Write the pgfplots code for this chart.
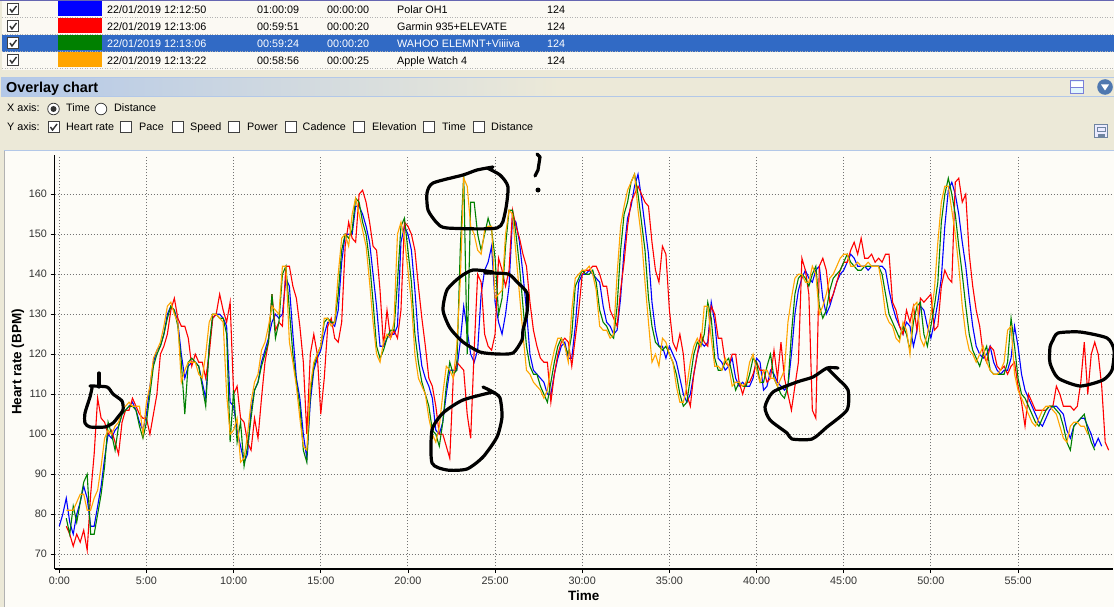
\documentclass[border=0pt]{standalone}
\usepackage{fontspec}
\setmainfont{Liberation Sans}
\usepackage{pgfplots}
\usepackage{pgfplotstable}
\pgfplotsset{compat=1.18}
\definecolor{paper}{HTML}{FDFCF7}
\definecolor{beige}{HTML}{ECE9D8}
\definecolor{rowbg}{HTML}{FBF9F3}
\definecolor{rowsel}{HTML}{316AC5}
\definecolor{barblue}{HTML}{B3C8E8}
\definecolor{wahoo}{HTML}{008000}
\definecolor{watch}{HTML}{FFA500}
\definecolor{iconblue}{HTML}{4F78B0}
\definecolor{iconedge}{HTML}{7A80D8}
\definecolor{icongrey}{HTML}{6F84A0}
% time (min), Polar, Garmin, Wahoo, Apple Watch
\pgfplotstableread{
t b r g o
0.0 77 nan nan nan
0.2 80 nan nan nan
0.4 84 77 79 81
0.6 78 75 75 81
0.8 75 72 82 81
1.0 80 75 78 83
1.2 83 73 83 85
1.4 87 76 88 85
1.6 84 71 90 81
1.8 77 85 75 81
2.0 77 95 75 84
2.2 82 109 80 86
2.4 87 104 85 92
2.6 94 103 92 99
2.8 100 100 103 101
3.0 99 101 100 100
3.2 101 98 96 102
3.4 102 95 102 103
3.6 105 103 105 106
3.8 106 106 106 107
4.0 107 106 107 108
4.2 108 109 107 107
4.4 106 107 106 107
4.6 103 105 102 107
4.8 101 104 99 100
5.0 105 104 103 108
5.2 112 100 110 112
5.4 118 105 117 119
5.6 121 110 120 121
5.8 122 120 122 123
6.0 125 122 125 127
6.2 130 125 129 132
6.4 132 131 132 133
6.6 131 134 131 130
6.8 128 129 127 128
7.0 120 127 118 113
7.2 114 127 105 116
7.4 117 124 118 118
7.6 118 117 119 118
7.8 118 120 118 118
8.0 117 118 117 115
8.2 113 118 112 114
8.4 109 114 107 120
8.6 122 120 122 128
8.8 129 129 130 130
9.0 130 130 130 130
9.2 130 135 129 129
9.4 129 131 129 128
9.6 127 128 125 110
9.8 108 133 98 100
10.0 107 110 111 101
10.2 101 112 98 104
10.4 97 104 103 93
10.6 93 103 92 94
10.8 95 98 97 100
11.0 106 96 104 108
11.2 111 104 111 113
11.4 113 99 113 115
11.6 118 109 117 121
11.8 121 118 120 123
12.0 124 123 123 127
12.2 128 135 135 132
12.4 130 126 124 131
12.6 129 128 128 130
12.8 130 127 140 142
13.0 139 142 142 142
13.2 137 142 131 123
13.4 125 137 120 118
13.6 114 134 113 112
13.8 109 127 107 104
14.0 100 118 96 97
14.2 94 100 93 96
14.4 108 120 110 112
14.6 116 125 117 118
14.8 119 120 120 120
15.0 121 105 122 122
15.2 125 114 128 129
15.4 128 127 129 129
15.6 128 129 128 127
15.8 127 124 128 128
16.0 131 123 135 140
16.2 143 128 146 149
16.4 150 147 150 150
16.6 150 153 149 147
16.8 150 149 151 155
17.0 157 148 159 159
17.2 157 160 158 155
17.4 155 161 153 151
17.6 152 158 150 147
17.8 148 153 143 138
18.0 140 147 133 128
18.2 132 146 122 120
18.4 122 136 119 118
18.6 122 122 121 123
18.8 124 131 124 125
19.0 125 124 126 124
19.2 125 126 126 128
19.4 127 124 138 150
19.6 148 131 152 153
19.8 152 153 154 149
20.0 150 152 146 141
20.2 146 150 138 133
20.4 136 146 125 120
20.6 124 137 118 114
20.8 117 129 113 112
21.0 114 122 110 110
21.2 112 114 107 104
21.4 109 112 101 100
21.6 101 107 100 98
21.8 100 100 97 102
22.0 103 100 103 110
22.2 110 97 112 117
22.4 116 94 118 116
22.6 116 114 115 114
22.8 116 118 116 122
23.0 123 117 146 138
23.2 132 116 165 164
23.4 126 105 120 162
23.6 120 99 158 152
23.8 118 121 158 150
24.0 121 140 150 146
24.2 135 138 146 145
24.4 141 125 150 151
24.6 143 122 154 152
24.8 147 121 151 152
25.0 133 125 144 134
25.2 128 144 130 135
25.4 125 141 134 136
25.6 130 137 147 150
25.8 137 141 156 156
26.0 154 156 156 155
26.2 153 152 150 145
26.4 148 149 142 135
26.6 140 145 132 125
26.8 131 142 122 116
27.0 120 133 117 115
27.2 116 126 115 113
27.4 115 122 115 112
27.6 114 119 112 111
27.8 113 118 110 109
28.0 110 118 108 111
28.2 110 108 113 117
28.4 115 115 118 121
28.6 119 120 122 124
28.8 122 123 124 124
29.0 123 124 122 122
29.2 119 123 120 118
29.4 119 117 125 131
29.6 127 124 137 139
29.8 138 131 139 140
30.0 140 140 141 141
30.2 140 141 140 141
30.4 141 141 140 142
30.6 140 142 141 140
30.8 139 142 138 136
31.0 138 140 131 127
31.2 132 137 128 126
31.4 128 137 127 126
31.6 127 131 125 124
31.8 125 129 124 125
32.0 126 127 132 140
32.2 134 136 146 152
32.4 146 143 155 157
32.6 154 152 158 161
32.8 157 158 163 163
33.0 162 160 165 165
33.2 165 162 160 156
33.4 159 160 153 149
33.6 152 158 146 138
33.8 145 157 134 128
34.0 133 148 127 118
34.2 126 141 123 120
34.4 122 138 122 117
34.6 122 147 121 124
34.8 119 145 122 123
35.0 122 131 120 120
35.2 120 123 118 118
35.4 118 121 115 112
35.6 114 125 110 108
35.8 110 120 107 108
36.0 108 110 108 112
36.2 110 107 114 118
36.4 115 115 120 122
36.6 120 120 123 124
36.8 123 125 122 122
37.0 122 123 125 132
37.2 123 122 133 132
37.4 133 132 129 124
37.6 128 130 119 117
37.8 119 124 116 117
38.0 118 124 116 116
38.2 116 118 118 119
38.4 117 117 119 117
38.6 119 120 115 112
38.8 114 120 111 113
39.0 112 113 113 113
39.2 113 110 112 112
39.4 112 113 112 113
39.6 112 113 115 118
39.8 114 115 119 120
40.0 119 118 118 116
40.2 118 116 113 113
40.4 111 116 113 116
40.6 112 113 117 116
40.8 116 114 120 114
41.0 115 121 114 114
41.2 113 114 112 112
41.4 112 123 110 114
41.6 111 114 109 116
41.8 112 110 112 128
42.0 120 106 125 134
42.2 130 112 135 139
42.4 136 118 139 140
42.6 139 144 140 140
42.8 141 141 139 138
43.0 139 135 137 138
43.2 138 106 140 142
43.4 141 104 142 140
43.6 142 142 132 130
43.8 134 144 129 132
44.0 130 141 131 135
44.2 132 133 136 139
44.4 135 135 139 140
44.6 138 138 140 142
44.8 140 141 141 144
45.0 141 143 143 145
45.2 143 143 145 145
45.4 145 146 143 142
45.6 144 148 142 142
45.8 142 145 141 143
46.0 142 149 141 142
46.2 142 144 142 142
46.4 141 144 142 143
46.6 142 145 142 142
46.8 142 143 142 142
47.0 142 144 142 142
47.2 142 143 140 137
47.4 141 145 135 130
47.6 136 145 130 128
47.8 132 133 128 127
48.0 129 131 126 124
48.2 127 127 124 123
48.4 125 125 127 128
48.6 128 131 125 126
48.8 127 128 121 120
49.0 122 132 128 132
49.2 126 126 132 133
49.4 132 134 133 124
49.6 131 133 125 122
49.8 127 134 122 125
50.0 124 135 127 130
50.2 128 126 132 136
50.4 133 127 138 148
50.6 139 137 153 158
50.8 152 141 160 162
51.0 161 139 164 162
51.2 163 138 160 156
51.4 160 163 155 150
51.6 155 164 147 142
51.8 148 158 140 132
52.0 142 160 132 125
52.2 134 145 125 121
52.4 127 137 121 120
52.6 122 131 119 118
52.8 120 127 117 120
53.0 119 120 120 122
53.2 120 118 122 118
53.4 122 122 116 116
53.6 118 121 115 115
53.8 116 117 115 115
54.0 115 116 115 116
54.2 116 117 115 118
54.4 116 115 118 126
54.6 119 117 129 127
54.8 127 118 122 115
55.0 122 112 114 111
55.2 115 108 110 109
55.4 111 102 109 107
55.6 109 110 107 105
55.8 107 108 105 103
56.0 105 106 103 102
56.2 103 106 102 104
56.4 102 106 104 106
56.6 104 106 106 107
56.8 106 107 107 107
57.0 107 107 107 106
57.2 107 112 106 105
57.4 106 110 105 102
57.6 105 107 102 99
57.8 101 107 98 98
58.0 99 107 96 102
58.2 102 106 102 103
58.4 103 107 103 103
58.6 104 113 104 102
58.8 104 123 105 102
59.0 102 110 101 100
59.2 100 120 98 nan
59.4 97 123 96 nan
59.6 99 120 nan nan
59.8 97 112 nan nan
60.0 nan 98 nan nan
60.2 nan 96 nan nan
}\hrtable
\newcommand{\boxmark}[2]{%
  \draw[black!75,fill=white,line width=.8pt] (#1-5.5,#2-5.5) rectangle (#1+5.5,#2+5.5);}
\newcommand{\tick}[2]{%
  \draw[black!80,line width=1.4pt] (#1-3,#2) -- (#1-1,#2+3) -- (#1+3.5,#2-3);}
\newcommand{\radio}[2]{%
  \draw[black!75,fill=white,line width=.8pt] (#1,#2) circle (5.8);}
\newcommand{\lab}[3]{\node[anchor=base west,inner sep=0pt,font=\fontsize{10.8}{12}\selectfont,#3] at (#1) {#2};}
\newcommand{\row}[8]{%
  \draw[black!30,dotted,line width=.5pt] (2,#1+8.5) -- (1114,#1+8.5);
  \boxmark{13}{#1}\tick{13}{#1}
  \fill[#2] (58,#1-7.5) rectangle (102,#1+7.5);
  \lab{107,#1+5}{#3}{#8}
  \lab{257,#1+5}{#4}{#8}
  \lab{327,#1+5}{#5}{#8}
  \lab{397,#1+5}{#6}{#8}
  \lab{547,#1+5}{#7}{#8}}
\begin{document}
\begin{tikzpicture}[x=1pt,y=-1pt]
\path[use as bounding box] (0,0) rectangle (1114,607);
\fill[beige] (0,0) rectangle (1114,607);
\fill[rowbg] (2,1) rectangle (1114,70);
\fill[rowsel] (2,35) rectangle (1114,52);
\draw[black!50!blue!60,line width=.8pt] (0,.4) -- (1114,.4);
\row{9}{blue}{22/01/2019 12:12:50}{01:00:09}{00:00:00}{Polar OH1}{124}{black}
\row{26}{red}{22/01/2019 12:13:06}{00:59:51}{00:00:20}{Garmin 935+ELEVATE}{124}{black}
\row{43}{wahoo}{22/01/2019 12:13:06}{00:59:24}{00:00:20}{WAHOO ELEMNT+Viiiiva}{124}{white}
\row{60}{watch}{22/01/2019 12:13:22}{00:58:56}{00:00:25}{Apple Watch 4}{124}{black}
% panel header
\fill[left color=barblue,right color=beige] (1,78) rectangle (560,96);
\draw[barblue,line width=.8pt] (1,77.5) -- (1114,77.5);
\draw[barblue,line width=.8pt] (1,96.5) -- (1114,96.5);
\node[anchor=base west,inner sep=0pt,font=\fontsize{14.4}{16}\selectfont\bfseries] at (6,93) {Overlay chart};
\lab{7,112}{X axis:}{black}
\radio{53.5}{109}\fill[black!80] (53.5,109) circle (3);
\lab{66,112}{Time}{black}
\radio{101}{109}
\lab{114,112}{Distance}{black}
\lab{7,131}{Y axis:}{black}
\boxmark{53.5}{127}\tick{53.5}{127}
\lab{66,131}{Heart rate}{black}
\boxmark{126}{127}\lab{139,131}{Pace}{black}
\boxmark{177.5}{127}\lab{190,131}{Speed}{black}
\boxmark{234}{127}\lab{247,131}{Power}{black}
\boxmark{291}{127}\lab{302.5,131}{Cadence}{black}
\boxmark{359}{127}\lab{372,131}{Elevation}{black}
\boxmark{429}{127}\lab{442,131}{Time}{black}
\boxmark{478.5}{127}\lab{491,131}{Distance}{black}
% window icons
\draw[iconedge,fill=cyan!12,line width=1pt] (1070.5,80.5) rectangle (1083.5,94);
\fill[white] (1071,82.5) rectangle (1083,87);
\draw[iconedge,line width=1pt] (1070.5,87.5) -- (1083.5,87.5);
\fill[iconblue] (1105,87) circle (7.8);
\fill[white] (1101,84.5) -- (1109,84.5) -- (1105,90.5) -- cycle;
\draw[icongrey,fill=blue!8,line width=1pt] (1094.5,124.5) rectangle (1107.5,138);
\draw[icongrey,line width=.7pt] (1097,127) rectangle (1105,131);
\fill[icongrey] (1097.5,134) rectangle (1104.5,138);
% chart panel
\fill[paper] (4,151) rectangle (1114,607);
\draw[barblue,line width=.8pt] (4,150.5) -- (1114,150.5);
\draw[black!30,line width=.8pt] (4,151) -- (4,607);
\begin{axis}[
  at={(54.5pt,-569pt)}, anchor=south west,
  scale only axis, width=1058.5pt, height=414pt,
  xmin=-0.275, xmax=60.45, ymin=66.3, ymax=169.8,
  axis x line*=bottom, axis y line*=left,
  axis line style={black,line width=1.2pt,-},
  xtick={0,5,...,55},
  xticklabels={0:00,5:00,10:00,15:00,20:00,25:00,30:00,35:00,40:00,45:00,50:00,55:00},
  ytick={70,80,...,160},
  tick align=outside, major tick length=4pt,
  tick style={black,line width=.8pt},
  grid=major,
  grid style={black!55,dash pattern=on 1.2pt off 1.8pt,line width=1pt},
  /pgf/number format/assume math mode=true,
  ticklabel style={font=\fontsize{10.8}{12}\selectfont,text=black!80},
  xlabel={Time}, ylabel={Heart rate (BPM)},
  label style={font=\fontsize{13.5}{15}\selectfont\bfseries},
  xlabel style={yshift=0pt},
  ylabel style={yshift=-2pt},
  clip=true,
  every axis plot/.append style={sharp plot,no marks,line width=1.1pt,line join=miter},
]
\addplot[blue] table[x=t,y=b] {\hrtable};
\addplot[red] table[x=t,y=r] {\hrtable};
\addplot[wahoo] table[x=t,y=g] {\hrtable};
\addplot[watch] table[x=t,y=o] {\hrtable};
\end{axis}
% marker pen scribbles on the screenshot
\begin{scope}[black,line width=3.2pt,line cap=round,line join=round]
\draw plot[smooth,tension=.4] coordinates {(493,167)(477,170)(463,175)(433,183)(427,193)(428,210)(437,223)(447,228)(497,228)(505,213)(508,187)(500,175)(487,168)};
\draw plot[smooth,tension=.4] coordinates {(493,272)(473,270)(460,277)(447,290)(443,310)(450,328)(463,342)(480,352)(497,354)(513,353)(522,340)(523,330)(527,313)(527,293)(517,282)(508,274)(485,273)};
\draw plot[smooth,tension=.4] coordinates {(483,387)(493,392)(500,398)(502,417)(497,437)(483,457)(467,469)(447,470)(432,463)(432,430)(443,413)(463,400)(493,392)};
\draw plot[smooth,tension=.4] coordinates {(90,386)(107,387)(113,394)(122,401)(123,410)(118,417)(113,423)(105,427)(90,427)(85,423)(85,413)(90,397)(92,388)};
\draw (99,373) -- (99,387);
\draw plot[smooth,tension=.4] coordinates {(838,368)(827,368)(813,377)(797,382)(773,392)(765,407)(770,420)(787,433)(792,439)(812,439)(827,427)(847,410)(848,390)(837,378)(827,368)};
\draw plot[smooth,tension=.4] coordinates {(1053,340)(1058,333)(1080,332)(1107,338)(1114,350)(1112,370)(1103,380)(1080,386)(1058,378)(1050,363)(1050,347)(1053,340)};
\draw (537,154) -- (540,157) -- (538,170) -- (535,176);
\fill (538,190) circle (2.5);
\end{scope}
\end{tikzpicture}
\end{document}
